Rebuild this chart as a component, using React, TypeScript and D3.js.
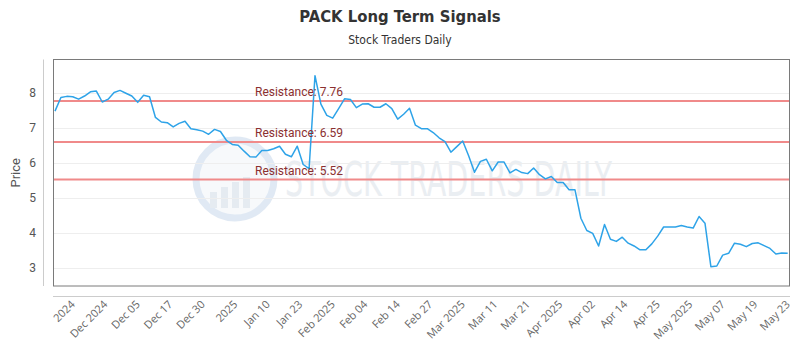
import { useRef, useEffect } from 'react'
import * as d3 from 'd3'

// closing prices, one per trading day
const prices = [
  7.47, 7.86, 7.89, 7.88, 7.81, 7.9, 8.02, 8.04, 7.73, 7.81,
  8.0, 8.06, 7.98, 7.9, 7.72, 7.92, 7.88, 7.29, 7.16, 7.14,
  7.02, 7.12, 7.18, 6.97, 6.94, 6.9, 6.81, 6.95, 6.89, 6.64,
  6.52, 6.5, 6.33, 6.17, 6.16, 6.35, 6.35, 6.4, 6.47, 6.24,
  6.17, 6.47, 5.95, 5.83, 8.48, 7.67, 7.35, 7.27, 7.54, 7.82,
  7.8, 7.57, 7.67, 7.68, 7.58, 7.58, 7.68, 7.54, 7.24, 7.38,
  7.55, 7.07, 6.97, 6.97, 6.86, 6.71, 6.6, 6.3, 6.46, 6.62,
  6.2, 5.73, 6.04, 6.1, 5.77, 6.02, 6.02, 5.71, 5.81, 5.72,
  5.69, 5.85, 5.66, 5.54, 5.61, 5.44, 5.44, 5.23, 5.23, 4.42,
  4.07, 3.99, 3.63, 4.24, 3.82, 3.76, 3.88, 3.71, 3.63, 3.52,
  3.52, 3.69, 3.91, 4.17, 4.17, 4.17, 4.21, 4.17, 4.14, 4.47,
  4.28, 3.04, 3.06, 3.37, 3.42, 3.71, 3.68, 3.61, 3.7, 3.72,
  3.64, 3.56, 3.4, 3.43, 3.42,
]

const tickLabels = [
  '2024', 'Dec 2024', 'Dec 05', 'Dec 17', 'Dec 30', '2025', 'Jan 10', 'Jan 23',
  'Feb 2025', 'Feb 04', 'Feb 14', 'Feb 27', 'Mar 2025', 'Mar 11', 'Mar 21',
  'Apr 2025', 'Apr 02', 'Apr 14', 'Apr 25', 'May 2025', 'May 07', 'May 19', 'May 23',
]
// index of the data point under the first and last tick label
const firstLabelIdx = 3
const lastLabelIdx = 124

const resistanceLevels = [7.76, 6.59, 5.52]
const yTicks = [3, 4, 5, 6, 7, 8]
const yDomain = [2.49, 8.94]

const App = () => {
  const ref = useRef<SVGSVGElement>(null)

  useEffect(() => {
    const svg = d3.select(ref.current)
    svg.selectAll('*').remove()

    const width = 800
    const height = 350
    const plot = { left: 53, right: 789, top: 59.5, bottom: 286 }

    svg.attr('width', width).attr('height', height)

    const x = d3.scaleLinear()
      .domain([0, prices.length - 1])
      .range([plot.left + 2, plot.right - 1.3])

    const y = d3.scaleLinear()
      .domain(yDomain)
      .range([plot.bottom, plot.top])

    const xl = d3.scalePoint<string>()
      .domain(tickLabels)
      .range([x(firstLabelIdx), x(lastLabelIdx)])

    // titles
    svg.append('text')
      .attr('x', width / 2)
      .attr('y', 22)
      .attr('text-anchor', 'middle')
      .style('font-family', 'DejaVu Sans Condensed, DejaVu Sans')
      .style('font-stretch', 'condensed')
      .style('font-weight', 'bold')
      .style('font-size', '16.5px')
      .style('fill', '#333')
      .text('PACK Long Term Signals')

    svg.append('text')
      .attr('x', width / 2)
      .attr('y', 44)
      .attr('text-anchor', 'middle')
      .style('font-family', 'DejaVu Sans Condensed, DejaVu Sans')
      .style('font-stretch', 'condensed')
      .style('font-size', '12px')
      .style('fill', '#333')
      .text('Stock Traders Daily')

    // watermark
    const wm = svg.append('g').style('opacity', 0.6)
    wm.append('circle')
      .attr('cx', 235).attr('cy', 179).attr('r', 39)
      .style('fill', '#f2f6fa')
      .style('stroke', '#cddced')
      .style('stroke-width', 7)
    wm.selectAll('rect.wmbar')
      .data([0, 1, 2, 3])
      .enter()
      .append('rect')
      .attr('x', (d) => 210 + d * 11)
      .attr('y', (d) => 192 - d * 5)
      .attr('width', 7)
      .attr('height', (d) => 16 + d * 5)
      .style('fill', '#d5dfe9')
    wm.append('text')
      .attr('x', 285)
      .attr('y', 196)
      .attr('textLength', 327)
      .attr('lengthAdjust', 'spacingAndGlyphs')
      .style('font-family', 'DejaVu Sans Condensed, DejaVu Sans')
      .style('font-size', '48px')
      .style('fill', '#dde3ea')
      .text('STOCK TRADERS DAILY')

    // grid
    svg.append('g')
      .selectAll('line')
      .data(yTicks)
      .enter()
      .append('line')
      .attr('x1', plot.left)
      .attr('x2', plot.right)
      .attr('y1', (d) => Math.round(y(d)) + 0.5)
      .attr('y2', (d) => Math.round(y(d)) + 0.5)
      .style('stroke', '#eeeeee')
      .style('stroke-width', 1)

    // y axis
    svg.append('line')
      .attr('x1', 43.5).attr('x2', 43.5)
      .attr('y1', plot.top).attr('y2', plot.bottom)
      .style('stroke', '#cccccc')

    svg.append('g')
      .selectAll('text')
      .data(yTicks)
      .enter()
      .append('text')
      .attr('x', 36)
      .attr('y', (d) => y(d) + 4)
      .attr('text-anchor', 'end')
      .style('font-family', 'Roboto')
      .style('font-size', '12px')
      .style('fill', '#555')
      .text((d) => d)

    svg.append('text')
      .attr('transform', `translate(20, ${(plot.top + plot.bottom) / 2}) rotate(-90)`)
      .attr('text-anchor', 'middle')
      .style('font-family', 'Roboto')
      .style('font-size', '13px')
      .style('fill', '#555')
      .text('Price')

    // x axis
    svg.append('line')
      .attr('x1', plot.left).attr('x2', plot.right + 1)
      .attr('y1', 296.5).attr('y2', 296.5)
      .style('stroke', '#cccccc')

    svg.append('g')
      .selectAll('text')
      .data(tickLabels)
      .enter()
      .append('text')
      .attr('transform', (d) => `translate(${(xl(d) ?? 0) + 3}, 305) rotate(-45)`)
      .attr('text-anchor', 'end')
      .style('font-family', 'Open Sans')
      .style('font-size', '11px')
      .style('fill', '#666')
      .text((d) => d)

    // resistance lines
    svg.append('g')
      .selectAll('line')
      .data(resistanceLevels)
      .enter()
      .append('line')
      .attr('x1', plot.left)
      .attr('x2', plot.right)
      .attr('y1', (d) => y(d))
      .attr('y2', (d) => y(d))
      .style('stroke', '#f08a8a')
      .style('stroke-width', 2)

    // price line
    const line = d3.line<number>()
      .x((d, i) => x(i))
      .y((d) => y(d))

    svg.append('path')
      .datum(prices)
      .attr('d', line)
      .style('fill', 'none')
      .style('stroke', '#2ea3e8')
      .style('stroke-width', 1.5)
      .style('stroke-linejoin', 'round')

    svg.append('g')
      .selectAll('text')
      .data(resistanceLevels)
      .enter()
      .append('text')
      .attr('x', 255)
      .attr('y', (d) => y(d) - 5)
      .style('font-family', 'Roboto')
      .style('font-size', '12px')
      .style('fill', '#8b3030')
      .text((d) => `Resistance: ${d.toFixed(2)}`)

    // plot border
    svg.append('rect')
      .attr('x', plot.left + 0.5)
      .attr('y', plot.top)
      .attr('width', plot.right - plot.left)
      .attr('height', plot.bottom - plot.top)
      .style('fill', 'none')
      .style('stroke', '#7a7a7a')
      .style('stroke-width', 1)
  }, [])

  return (
    <svg ref={ref} style={{ position: 'absolute', left: 0, top: 0 }} />
  )
}

export default App
